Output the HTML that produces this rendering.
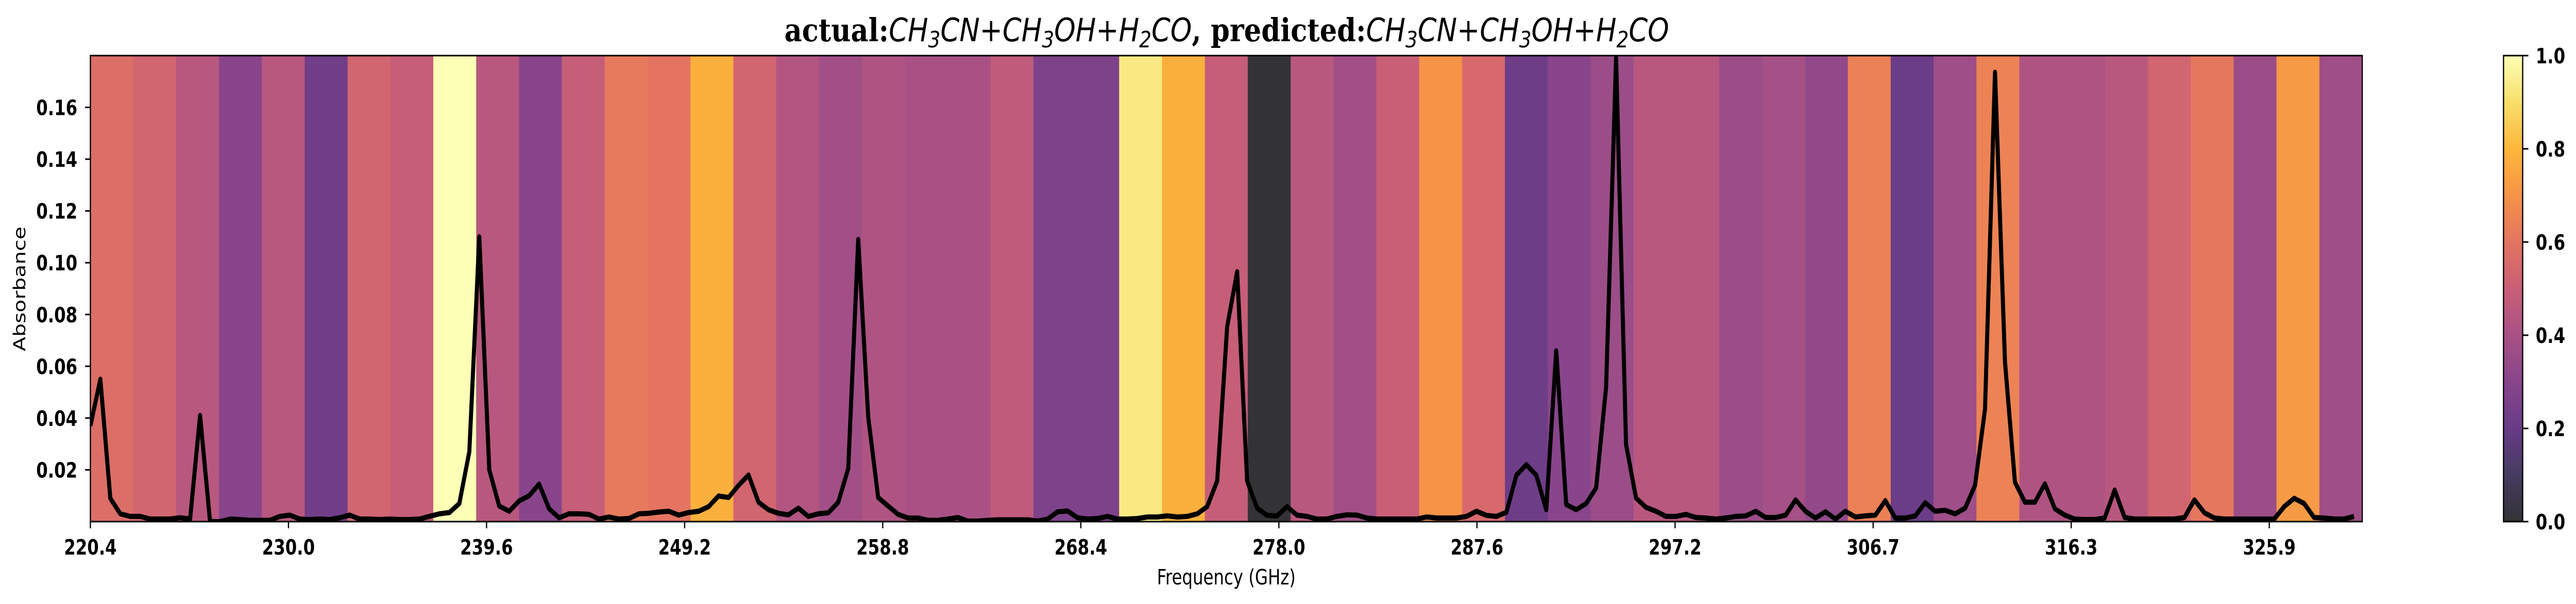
<!DOCTYPE html>
<html><head><meta charset="utf-8">
<meta name="viewport" content="width=6327, initial-scale=1">
<style>
html,body{margin:0;padding:0;background:#fff;width:100%;height:100%;overflow:hidden;}
svg{display:block;width:100vw;height:100vh;}
text{font-family:"DejaVu Sans","Liberation Sans",sans-serif;}
</style></head>
<body>
<svg id="chart" viewBox="0 0 6327 1173" preserveAspectRatio="none" xmlns="http://www.w3.org/2000/svg">
  <g id="bands"></g>
  <g id="series"></g>
  <g id="axes"></g>
  <g id="cbar"></g>
  <text x="3013" y="80" text-anchor="middle" font-size="62" textLength="2173" lengthAdjust="spacingAndGlyphs"><tspan font-family="DejaVu Serif, Liberation Serif, serif" font-weight="bold">actual:</tspan><tspan font-style="italic">CH</tspan><tspan font-style="italic" font-size="44" dy="12">3</tspan><tspan font-style="italic" dy="-12">CN+CH</tspan><tspan font-style="italic" font-size="44" dy="12">3</tspan><tspan font-style="italic" dy="-12">OH+H</tspan><tspan font-style="italic" font-size="44" dy="12">2</tspan><tspan font-style="italic" dy="-12">CO</tspan><tspan font-family="DejaVu Serif, Liberation Serif, serif" font-weight="bold">, predicted:</tspan><tspan font-style="italic">CH</tspan><tspan font-style="italic" font-size="44" dy="12">3</tspan><tspan font-style="italic" dy="-12">CN+CH</tspan><tspan font-style="italic" font-size="44" dy="12">3</tspan><tspan font-style="italic" dy="-12">OH+H</tspan><tspan font-style="italic" font-size="44" dy="12">2</tspan><tspan font-style="italic" dy="-12">CO</tspan></text>
  <text x="3012" y="1135" text-anchor="middle" font-size="41">Frequency (GHz)</text>
  <text transform="translate(62,561) rotate(-90)" text-anchor="middle" font-size="41">Absorbance</text>
</svg>
<script>
// ---- data ----
const freqStart = 220.4;
const freqEnd = 330.0;
const absorbance = [
0.037,0.055,0.009,0.003,0.002,0.002,0.001,0.001,0.001,0.0015,
0.001,0.041,0.0,0.0,0.001,0.0008,0.0005,0.0005,0.0005,0.002,
0.0025,0.001,0.0008,0.001,0.0008,0.0015,0.0025,0.001,0.001,0.0008,
0.001,0.0008,0.0008,0.001,0.002,0.003,0.0035,0.007,0.027,0.110,
0.020,0.006,0.004,0.008,0.010,0.0145,0.005,0.0015,0.003,0.003,
0.0028,0.001,0.0018,0.001,0.0012,0.003,0.0032,0.0037,0.004,0.0025,
0.0035,0.004,0.0058,0.0099,0.0093,0.014,0.018,0.0075,0.0046,0.0032,
0.0026,0.0052,0.002,0.003,0.0034,0.0075,0.0205,0.109,0.0405,0.0093,
0.006,0.0028,0.0014,0.0014,0.0005,0.0005,0.001,0.0016,0.0002,0.0002,
0.0005,0.0007,0.0007,0.0007,0.0007,0.0002,0.001,0.0038,0.0041,0.0015,
0.001,0.0012,0.002,0.001,0.001,0.0012,0.0018,0.0018,0.0022,0.0018,
0.002,0.003,0.0058,0.0157,0.0753,0.0965,0.0157,0.0052,0.0024,0.0022,
0.0058,0.0025,0.002,0.001,0.001,0.002,0.0026,0.0025,0.0014,0.001,
0.001,0.001,0.001,0.001,0.0018,0.0014,0.0014,0.0014,0.002,0.004,
0.0024,0.002,0.0036,0.0179,0.022,0.0179,0.0046,0.066,0.0066,0.0046,
0.007,0.013,0.052,0.179,0.0298,0.0091,0.0055,0.004,0.002,0.002,
0.0028,0.0016,0.0014,0.001,0.0014,0.002,0.0022,0.004,0.0016,0.0016,
0.0025,0.0084,0.004,0.0014,0.0038,0.001,0.004,0.0018,0.0022,0.0025,
0.0081,0.0014,0.0014,0.0022,0.0073,0.004,0.0044,0.003,0.0052,0.014,
0.0435,0.1736,0.0617,0.0152,0.0075,0.0075,0.0146,0.005,0.0025,0.001,
0.0008,0.0008,0.0014,0.0122,0.0016,0.001,0.001,0.001,0.001,0.001,
0.0016,0.0084,0.0034,0.0014,0.001,0.001,0.001,0.001,0.001,0.001,
0.0058,0.009,0.007,0.0016,0.0014,0.001,0.001,0.002
];
const bandValues = [
0.57,0.53,0.45,0.30,0.45,0.23,0.53,0.49,1.00,0.45,
0.30,0.49,0.62,0.60,0.78,0.53,0.43,0.38,0.42,0.40,
0.40,0.47,0.27,0.27,0.93,0.78,0.49,0.00,0.45,0.38,
0.50,0.70,0.55,0.22,0.30,0.36,0.45,0.45,0.36,0.39,
0.33,0.64,0.21,0.37,0.65,0.42,0.42,0.45,0.53,0.61,
0.36,0.72,0.37
];
const xTickLabels = ["220.4","230.0","239.6","249.2","258.8","268.4","278.0","287.6","297.2","306.7","316.3","325.9"];
const yTickValues = [0.02,0.04,0.06,0.08,0.10,0.12,0.14,0.16];
const cbarTicks = [0.0,0.2,0.4,0.6,0.8,1.0];

// ---- layout ----
const L=222, R=5802, T=108, B=1013;
const xMin=220.4, xMax=330.4, yMin=0, yMax=0.18;
const xs = v => L + (v-xMin)/(xMax-xMin)*(R-L);
const ys = v => B - (v-yMin)/(yMax-yMin)*(B-T);
const NS="http://www.w3.org/2000/svg";
function mk(tag, attrs, parent){const e=document.createElementNS(NS,tag);for(const k in attrs)e.setAttribute(k,attrs[k]);parent.appendChild(e);return e;}

const inf=[[0,0,4],[22,11,57],[66,10,104],[106,23,110],[147,38,103],[188,55,84],[221,81,58],[243,120,25],[252,165,10],[246,215,70],[252,255,164]];
function color(v){v=Math.max(0,Math.min(1,v));const p=v*10,i=Math.min(9,Math.floor(p)),f=p-i;
 const c=inf[i].map((a,k)=>a+(inf[i+1][k]-a)*f).map(a=>Math.round(a*0.8+255*0.2));
 return `rgb(${c[0]},${c[1]},${c[2]})`;}

// bands
const gB=document.getElementById('bands');
const bw=(xMax-xMin)/bandValues.length;
bandValues.forEach((v,i)=>{
  const x0=xs(xMin+i*bw), x1=xs(xMin+(i+1)*bw);
  const r=mk('rect',{x:x0,y:T,width:x1-x0+0.6,height:B-T,fill:color(v)},gB);
  
  
});

// line
const gS=document.getElementById('series');
const step=(freqEnd-freqStart)/(absorbance.length-1);
const pts=absorbance.map((a,i)=>xs(freqStart+i*step).toFixed(1)+','+ys(a).toFixed(1)).join(' ');
const cp=mk('clipPath',{id:'plotclip'},gS);mk('rect',{x:L,y:T,width:R-L,height:B-T},cp);
const pl=mk('polyline',{points:pts,fill:'none',stroke:'#000','stroke-width':10,'stroke-linejoin':'round','clip-path':'url(#plotclip)'},gS);



// axes
const gA=document.getElementById('axes');
const fr=mk('rect',{x:L,y:T,width:R-L,height:B-T,fill:'none',stroke:'#000','stroke-width':3},gA);


const xStep=(325.9-220.4)/11;
xTickLabels.forEach((lab,i)=>{
  const x=xs(220.4+i*xStep);
  mk('line',{x1:x,y1:B,x2:x,y2:B+13,stroke:'#000','stroke-width':3},gA);
  const t=mk('text',{x:x,y:1077,'text-anchor':'middle','font-size':41,'font-weight':'bold'},gA);
  t.textContent=lab;
  
  
});
yTickValues.forEach(v=>{
  const y=ys(v);
  mk('line',{x1:L-13,y1:y,x2:L,y2:y,stroke:'#000','stroke-width':3},gA);
  const t=mk('text',{x:190,y:y+15,'text-anchor':'end','font-size':41,'font-weight':'bold'},gA);
  t.textContent=v.toFixed(2);
  
  
});

// colorbar
const gC=document.getElementById('cbar');
const CL=6149, CR=6196;
const defs=mk('defs',{},gC);
const lg=mk('linearGradient',{id:'cg',x1:0,y1:1,x2:0,y2:0},defs);
for(let i=0;i<=20;i++){mk('stop',{offset:(i/20),'stop-color':color(i/20)},lg);}
const cr=mk('rect',{x:CL,y:T,width:CR-CL,height:B-T,fill:'url(#cg)',stroke:'#000','stroke-width':3},gC);


cbarTicks.forEach(v=>{
  const y=B-v*(B-T);
  mk('line',{x1:CR,y1:y,x2:CR+14,y2:y,stroke:'#000','stroke-width':3},gC);
  const t=mk('text',{x:6228,y:y+15,'font-size':41,'font-weight':'bold'},gC);
  t.textContent=v.toFixed(1);
  
  
});
</script>
</body></html>
